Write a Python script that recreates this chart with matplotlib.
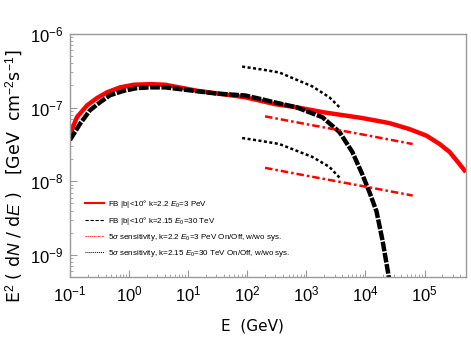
import matplotlib.pyplot as plt
from matplotlib.ticker import LogLocator, NullFormatter

plt.rcParams['font.family'] = ['Liberation Sans', 'DejaVu Sans']
plt.rcParams['mathtext.fontset'] = 'custom'
plt.rcParams['mathtext.rm'] = 'Liberation Sans'
plt.rcParams['mathtext.it'] = 'Liberation Sans:italic'

# FB model, k=2.2, E0=3 PeV
e_red = [0.1, 0.131, 0.194, 0.287, 0.424, 0.703, 1.2, 2.27, 4.08, 14.8, 30, 92, 300, 676, 2000,
         8900, 25500, 55700, 108000, 180000, 265000, 363000, 476000, 500000]
f_red = [4.37e-8, 7.4e-8, 1.07e-7, 1.35e-7, 1.61e-7, 1.88e-7, 2.04e-7, 2.08e-7, 2.04e-7, 1.68e-7,
         1.56e-7, 1.38e-7, 1.11e-7, 1.01e-7, 8.6e-8, 7.2e-8, 6.15e-8, 5.1e-8, 4.15e-8, 3.2e-8,
         2.5e-8, 1.84e-8, 1.4e-8, 1.33e-8]

# FB model, k=2.15, E0=30 TeV
e_blk = [0.1, 0.148, 0.218, 0.322, 0.476, 0.813, 1.37, 2.27, 4.08, 14.8, 30, 92, 180, 300, 676,
         1870, 3640, 6000, 8900, 11700, 15400, 19500, 24500, 31000]
f_blk = [3.63e-8, 6.02e-8, 9.2e-8, 1.18e-7, 1.47e-7, 1.69e-7, 1.84e-7, 1.88e-7, 1.88e-7, 1.66e-7,
         1.55e-7, 1.46e-7, 1.29e-7, 1.17e-7, 1.01e-7, 7.4e-8, 4.65e-8, 2.5e-8, 1.23e-8, 7.1e-9,
         3.9e-9, 1.56e-9, 5.4e-10, 1.4e-10]

# 5 sigma sensitivity, k=2.2 (On/Off, with and without sys.)
e_sens_red = [200, 1000, 10000, 63000]
f_sens_red_a = [7.6e-8, 5.96e-8, 4.24e-8, 3.2e-8]
f_sens_red_b = [1.52e-8, 1.19e-8, 8.45e-9, 6.4e-9]

# 5 sigma sensitivity, k=2.15
e_sens_blk = [82, 180, 350, 1260, 2450, 3640]
f_sens_blk_a = [3.6e-7, 3.28e-7, 2.99e-7, 1.94e-7, 1.38e-7, 1.01e-7]
f_sens_blk_b = [3.86e-8, 3.5e-8, 3.2e-8, 2.14e-8, 1.57e-8, 1.12e-8]

fig = plt.figure(figsize=(4.71, 3.53), dpi=100)
ax = fig.add_axes([0.1486, 0.215, 0.8404, 0.689])

ax.plot(e_red, f_red, color='#ff0000', lw=3.2, solid_capstyle='butt')
ax.plot(e_blk, f_blk, color='black', lw=3.2, dashes=(2.2, 0.35))
ax.plot(e_sens_red, f_sens_red_a, color='#ff0000', lw=1.8, dashes=(3, 1.2, 1, 1.2))
ax.plot(e_sens_red, f_sens_red_b, color='#ff0000', lw=1.8, dashes=(3, 1.2, 1, 1.2))
ax.plot(e_sens_blk, f_sens_blk_a, color='black', lw=1.8, dashes=(1.2, 1.0))
ax.plot(e_sens_blk, f_sens_blk_b, color='black', lw=1.8, dashes=(1.2, 1.0))

# legend handles
ax.plot([], [], color='#ff0000', lw=1.5, label=r'FB |b|<10° k=2.2 $E_0$=3 PeV')
ax.plot([], [], color='black', lw=0.8, dashes=(3, 1.5), label=r'FB |b|<10° k=2.15 $E_0$=30 TeV')
ax.plot([], [], color='#ff0000', lw=0.6, dashes=(2, 1, 1, 1), label=r'5$\sigma$ sensitivity, k=2.2 $E_0$=3 PeV On/Off, w/wo sys.')
ax.plot([], [], color='black', lw=0.7, dashes=(1, 1), label=r'5$\sigma$ sensitivity, k=2.15 $E_0$=30 TeV On/Off, w/wo sys.')
handles, labels = ax.get_legend_handles_labels()
ax.legend(handles[-4:], labels[-4:], loc='upper left', bbox_to_anchor=(0.02, 0.357),
          frameon=False, fontsize=5.8, handlelength=2.4, labelspacing=0.63, handletextpad=0.45)

ax.set_xscale('log')
ax.set_yscale('log')
ax.set_xlim(0.1, 5e5)
ax.set_ylim(5e-10, 1e-6)

ax.xaxis.set_major_locator(LogLocator(base=10, numticks=20))
ax.xaxis.set_minor_locator(LogLocator(base=10, subs=range(2, 10), numticks=20))
ax.xaxis.set_minor_formatter(NullFormatter())
ax.yaxis.set_minor_formatter(NullFormatter())

for s in ax.spines.values():
    s.set_color('#999999')
    s.set_linewidth(1.0)
ax.tick_params(which='both', direction='in', colors='#999999', labelcolor='black',
               top=False, right=False, labelsize=12)
ax.tick_params(which='major', length=5, width=0.8, pad=5)
ax.tick_params(which='minor', length=2.5, width=0.6)

ax.set_xlabel('E  (GeV)', fontsize=11, family='DejaVu Sans')
ax.xaxis.set_label_coords(0.46, -0.17)
ax.set_ylabel(r'E$^2$ ( d$N$ / d$E$ )   [GeV  cm$^{-2}$s$^{-1}$]', fontsize=12.5, family='DejaVu Sans')
ax.yaxis.set_label_coords(-0.114, 0.415)

fig.savefig('out.png', dpi=100)
